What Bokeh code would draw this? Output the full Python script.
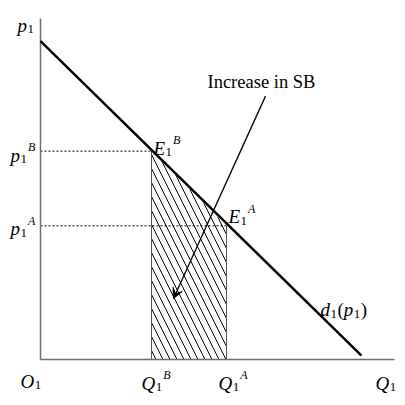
from bokeh.plotting import figure
from bokeh.models import Range1d, Arrow, VeeHead
from bokeh.core.properties import value
from bokeh.embed import file_html
from bokeh.resources import INLINE

# ---- data (quantity Q1, price p1) ----
demand_Q = [0, 321]
demand_p = [324, 4]
Q_B, p_B = 111, 212
Q_A, p_A = 186, 136
axis_Q_end = 354
axis_p_top = 347
arrow_start = (225, 268)
arrow_end = (133, 62)
note_pos = (167, 282)
note_text = "Increase in SB"

FONT = value("Liberation Serif")
ITW = {"p": .5, "E": .611, "Q": .722, "O": .722, "d": .5, "(": .333, ")": .333, "A": .611, "B": .611}

p = figure(width=397, height=397, output_backend="svg", toolbar_location=None,
           x_range=Range1d(-40, 357), y_range=Range1d(-38.7, 365.3), min_border=0)
p.axis.visible = False
p.grid.visible = False
p.outline_line_color = None
p.background_fill_color = "white"

# hatched area under demand between Q_B and Q_A
p.patch(x=[Q_B, Q_B, Q_A, Q_A], y=[0, p_B, p_A, 0], fill_alpha=0, line_color=None,
         hatch_pattern="\\", hatch_scale=14, hatch_weight=1, hatch_color="black")
p.segment(x0=[Q_B, Q_A], y0=[0, 0], x1=[Q_B, Q_A], y1=[p_B, p_A], line_color="#555555", line_width=1)

# dashed price lines
p.segment(x0=[0, 0], y0=[p_B, p_A], x1=[Q_B, Q_A], y1=[p_B, p_A], line_color="black",
          line_width=1, line_dash="2 2")

# axes
p.line([0, 0], [0, axis_p_top], line_color="#6e6e6e", line_width=1.5)
p.line([0, axis_Q_end], [0, 0], line_color="#6e6e6e", line_width=1.5)

# demand curve
p.line(demand_Q, demand_p, line_color="black", line_width=2.5)

# arrow
p.add_layout(Arrow(end=VeeHead(size=10, fill_color="black", line_color="black"),
                   x_start=arrow_start[0], y_start=arrow_start[1],
                   x_end=arrow_end[0], y_end=arrow_end[1],
                   line_color="black", line_width=1.3))

p.text(x=[note_pos[0]], y=[note_pos[1]], text=[note_text], text_font=FONT,
       text_font_size="18.5px", text_baseline="alphabetic", text_align="left", text_color="black")

BASE = 19
SUB = 13
SUP = 12


def put(x, y, txt, dx, dy, size, style):
    p.text(x=[x], y=[y], text=[txt], x_offset=dx, y_offset=dy, text_font=FONT,
           text_font_size=f"{size}px", text_font_style=style, text_baseline="alphabetic",
           text_align="left", text_color="black")


def label(x, y, dx, dy, base, sup=None):
    put(x, y, base, dx, dy, BASE, "italic")
    sx = dx + ITW[base] * BASE + 0.5
    put(x, y, "1", sx, dy + 4, SUB, "normal")
    if sup:
        put(x, y, sup, sx + 0.5 * SUB + 1, dy - 8, SUP, "italic")


label(0, axis_p_top, -23, 7, "p")
label(0, p_B, -30, 4, "p", "B")
label(0, p_A, -30, 3, "p", "A")
label(Q_B, p_B, 2, -3, "E", "B")
label(Q_A, p_A, 2, -9, "E", "A")
label(Q_B, 0, -10, 24, "Q", "B")
label(Q_A, 0, -8, 24, "Q", "A")
label(axis_Q_end, 0, -19, 24, "Q")
label(0, 0, -20, 22, "O")

# d1(p1) label near the end of the demand line
ex, ey = demand_Q[1], demand_p[1]
dx, dy = -41, -46
put(ex, ey, "d", dx, dy, BASE, "italic"); dx += ITW["d"] * BASE + 0.5
put(ex, ey, "1", dx, dy + 4, SUB, "normal"); dx += 0.5 * SUB + 0.5
put(ex, ey, "(", dx, dy, BASE, "normal"); dx += ITW["("] * BASE
put(ex, ey, "p", dx, dy, BASE, "italic"); dx += ITW["p"] * BASE + 0.5
put(ex, ey, "1", dx, dy + 4, SUB, "normal"); dx += 0.5 * SUB + 0.5
put(ex, ey, ")", dx, dy, BASE, "normal")

open("out.html", "w").write(file_html(p, INLINE))
